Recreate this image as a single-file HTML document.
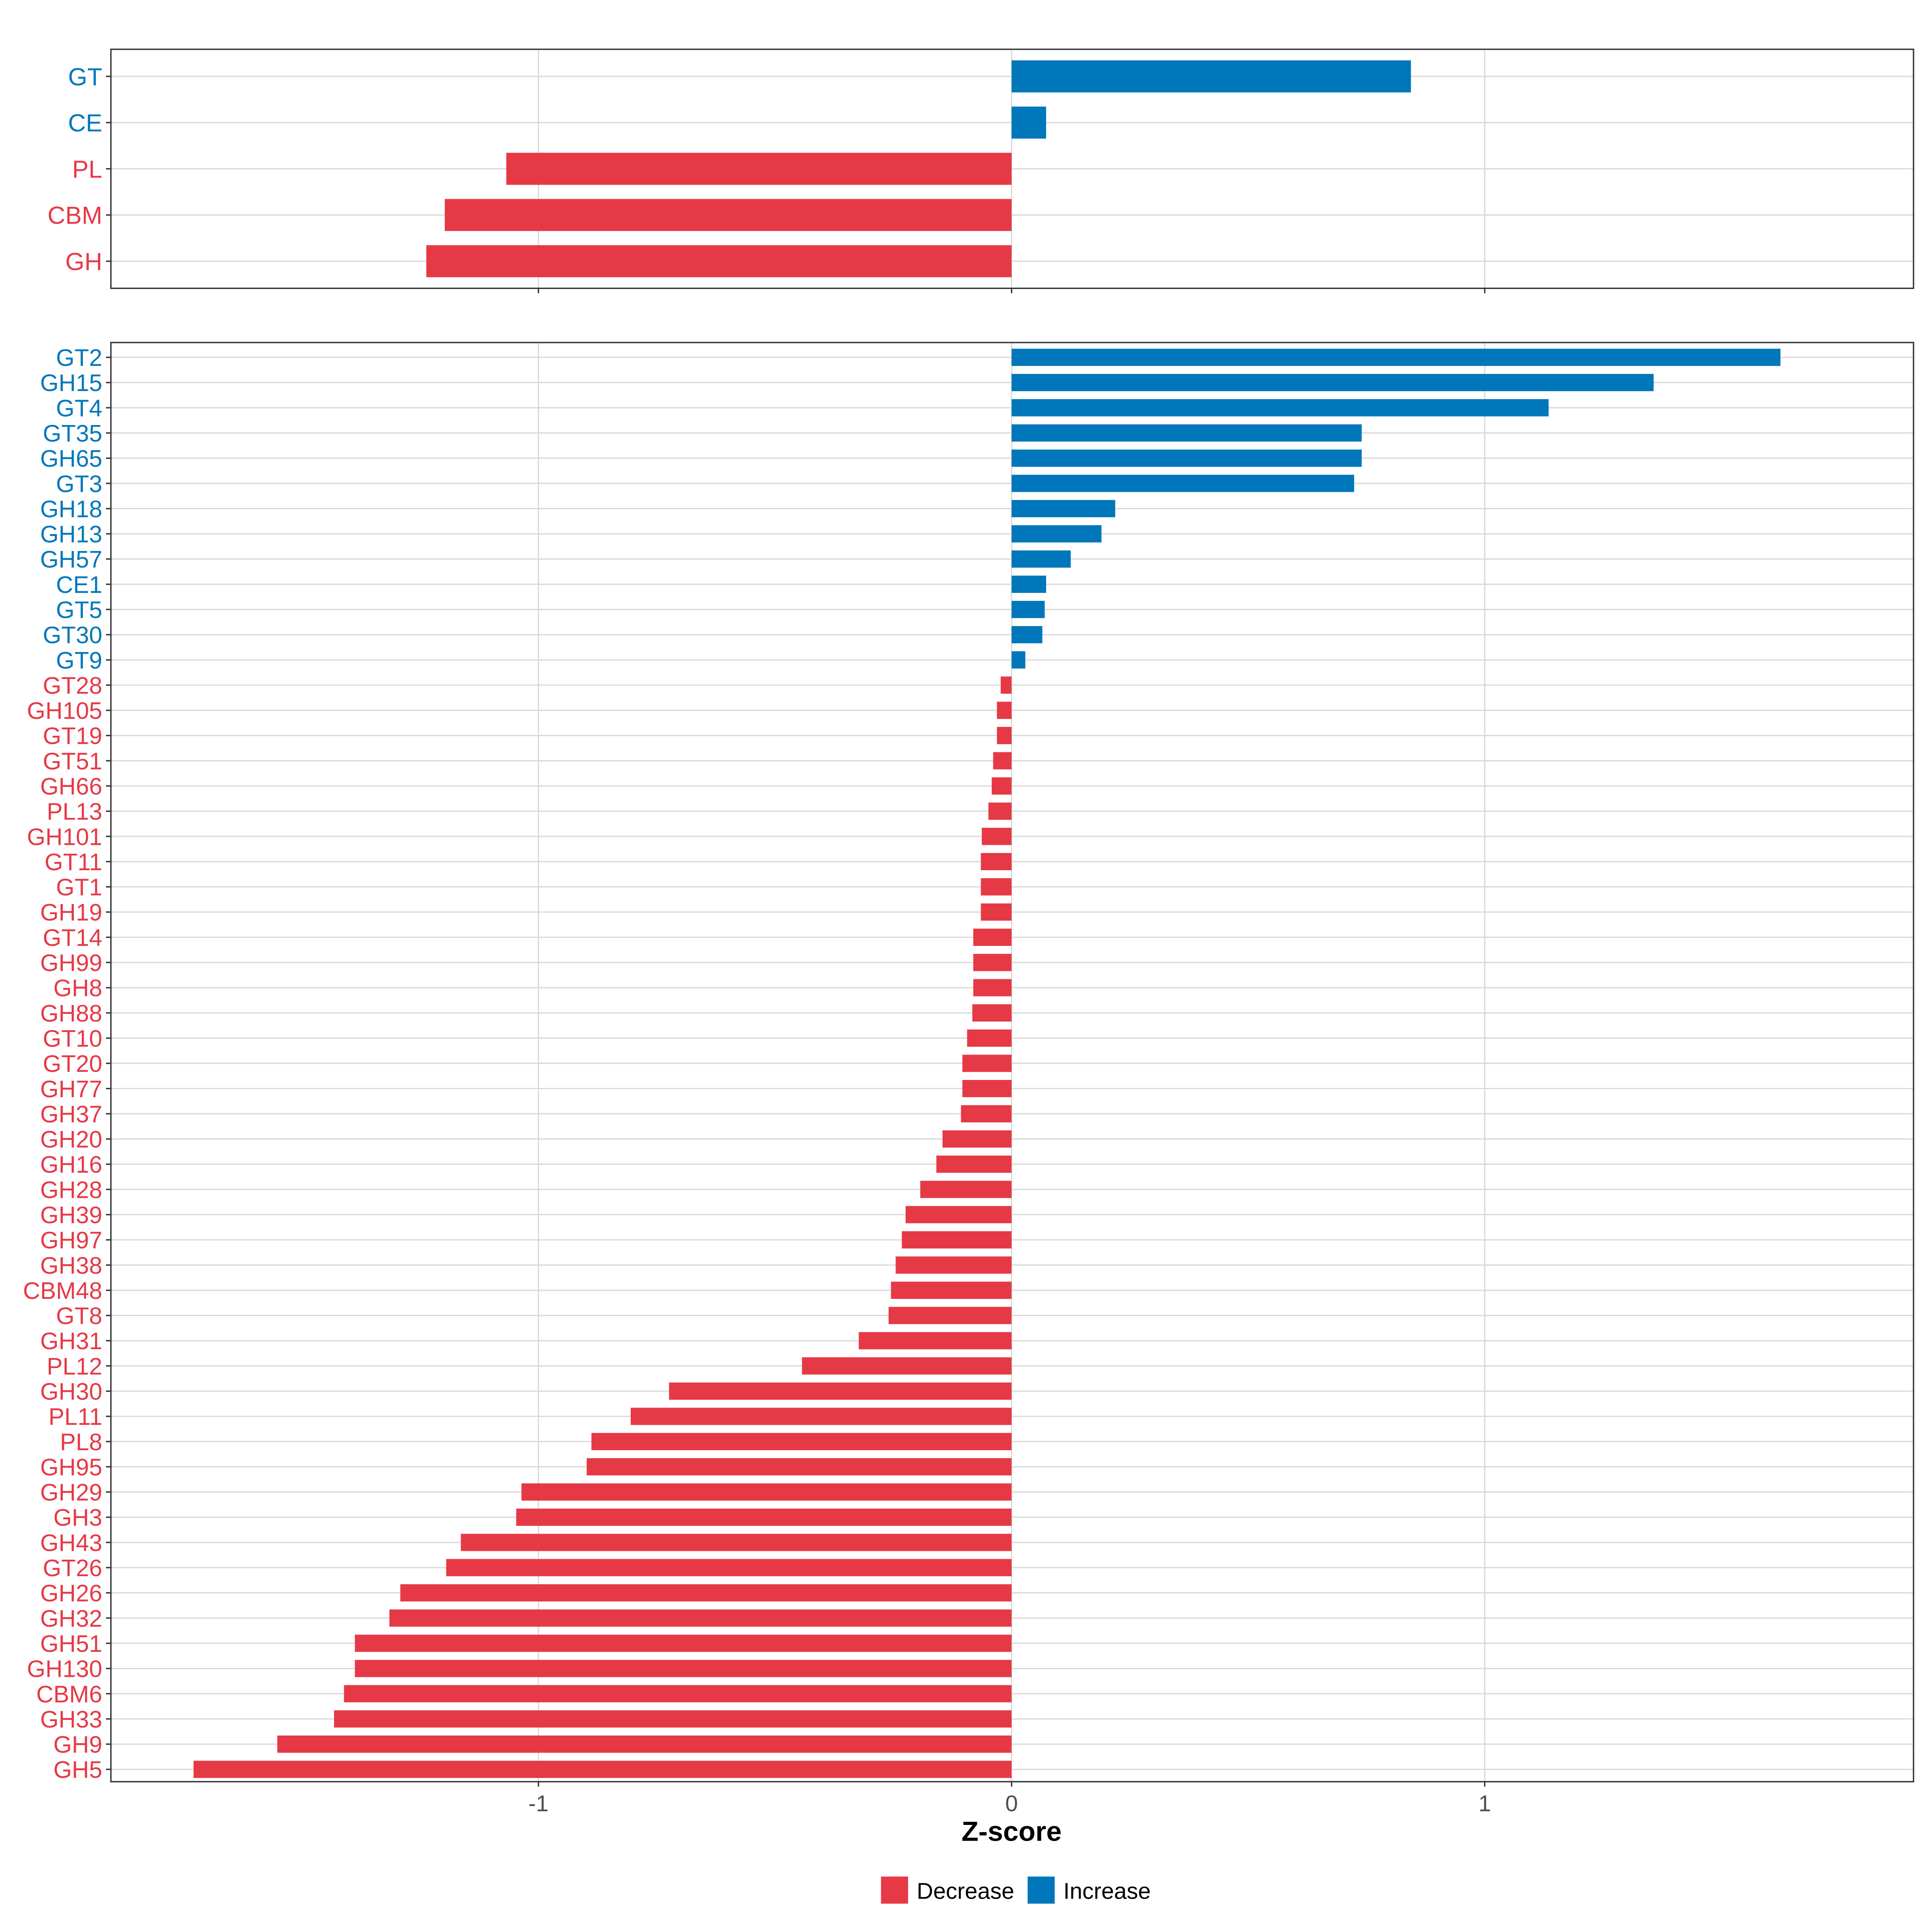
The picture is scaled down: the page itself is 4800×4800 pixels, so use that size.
<!DOCTYPE html>
<html><head><meta charset="utf-8"><style>
html,body{margin:0;padding:0;background:#fff;}
svg{display:block;font-family:"Liberation Sans",Arial,sans-serif;}
</style></head><body>
<svg id="chart" width="4800" height="4800" viewBox="0 0 1568 1568" xmlns="http://www.w3.org/2000/svg"></svg>
<script>
const topCats = ["GT","CE","PL","CBM","GH"];
const topVals = [0.844,0.073,-1.068,-1.198,-1.237];
const botCats = ["GT2","GH15","GT4","GT35","GH65","GT3","GH18","GH13","GH57","CE1","GT5","GT30","GT9","GT28","GH105","GT19","GT51","GH66","PL13","GH101","GT11","GT1","GH19","GT14","GH99","GH8","GH88","GT10","GT20","GH77","GH37","GH20","GH16","GH28","GH39","GH97","GH38","CBM48","GT8","GH31","PL12","GH30","PL11","PL8","GH95","GH29","GH3","GH43","GT26","GH26","GH32","GH51","GH130","CBM6","GH33","GH9","GH5"];
const botVals = [1.625,1.357,1.135,0.740,0.740,0.724,0.219,0.190,0.125,0.073,0.070,0.065,0.029,-0.023,-0.031,-0.031,-0.039,-0.042,-0.049,-0.063,-0.065,-0.065,-0.065,-0.081,-0.081,-0.081,-0.083,-0.094,-0.104,-0.104,-0.107,-0.146,-0.159,-0.193,-0.224,-0.232,-0.245,-0.255,-0.260,-0.323,-0.443,-0.724,-0.805,-0.888,-0.898,-1.036,-1.047,-1.164,-1.195,-1.292,-1.315,-1.388,-1.388,-1.411,-1.432,-1.552,-1.729];
const xTicks = [-1,0,1];
const xTickLabels = ["-1","0","1"];

const NS="http://www.w3.org/2000/svg";
const svg=document.getElementById('chart');
const RED="#E63946", BLUE="#0077BB";
const X0=90, X1=1553;
function xs(v){return 821+v*384;}
function mk(tag,attrs,parent){const e=document.createElementNS(NS,tag);for(const k in attrs)e.setAttribute(k,attrs[k]);(parent||svg).appendChild(e);return e;}

function panel(name,cats,vals,y0,y1,first,step,bh,fs,showLabels){
  const g=mk('g',{});
  
  
  xTicks.forEach(t=>{const l=mk('line',{x1:xs(t),x2:xs(t),y1:y0,y2:y1,stroke:"#d9d9d9","stroke-width":1},g);
    });
  cats.forEach((c,i)=>{const y=first+i*step;
    const l=mk('line',{x1:X0,x2:X1,y1:y,y2:y,stroke:"#d9d9d9","stroke-width":1},g);
    });
  cats.forEach((c,i)=>{const y=first+i*step;const v=vals[i];const col=v>=0?BLUE:RED;
    const r=mk('rect',{x:Math.min(xs(0),xs(v)),y:y-bh/2,width:Math.abs(xs(v)-xs(0)),height:bh,fill:col},g);
    
    const t=mk('text',{x:83,y:y+fs*0.36,"text-anchor":"end","font-size":fs,fill:col},g);
    t.textContent=c;
    mk('line',{x1:86,x2:X0,y1:y,y2:y,stroke:"#333","stroke-width":1.1},g);
  });
  const b=mk('rect',{x:X0,y:y0,width:X1-X0,height:y1-y0,fill:"none",stroke:"#333","stroke-width":1.1},g);
  
  xTicks.forEach((t,i)=>{mk('line',{x1:xs(t),x2:xs(t),y1:y1,y2:y1+4,stroke:"#333","stroke-width":1.1},g);
    if(showLabels){const tx=mk('text',{x:xs(t),y:y1+24,"text-anchor":"middle","font-size":18.5,fill:"#4d4d4d"},g);
      tx.textContent=xTickLabels[i];}});
}
panel('top-panel',topCats,topVals,40,234,62,37.5,26,20,false);
panel('bottom-panel',botCats,botVals,278,1446,290,(1436-290)/56,14,19.3,true);

const tt=mk('text',{x:821,y:1494,"text-anchor":"middle","font-size":22.5,"font-weight":"bold",fill:"#000"});
tt.textContent="Z-score";

const lg=mk('g',{});


const r1=mk('rect',{x:715,y:1523,width:22,height:22,fill:RED},lg);

const t1=mk('text',{x:744,y:1541,"font-size":18.5,fill:"#000"},lg);t1.textContent="Decrease";

const r2=mk('rect',{x:834,y:1523,width:22,height:22,fill:BLUE},lg);

const t2=mk('text',{x:863,y:1541,"font-size":18.5,fill:"#000"},lg);t2.textContent="Increase";

</script>
</body></html>
